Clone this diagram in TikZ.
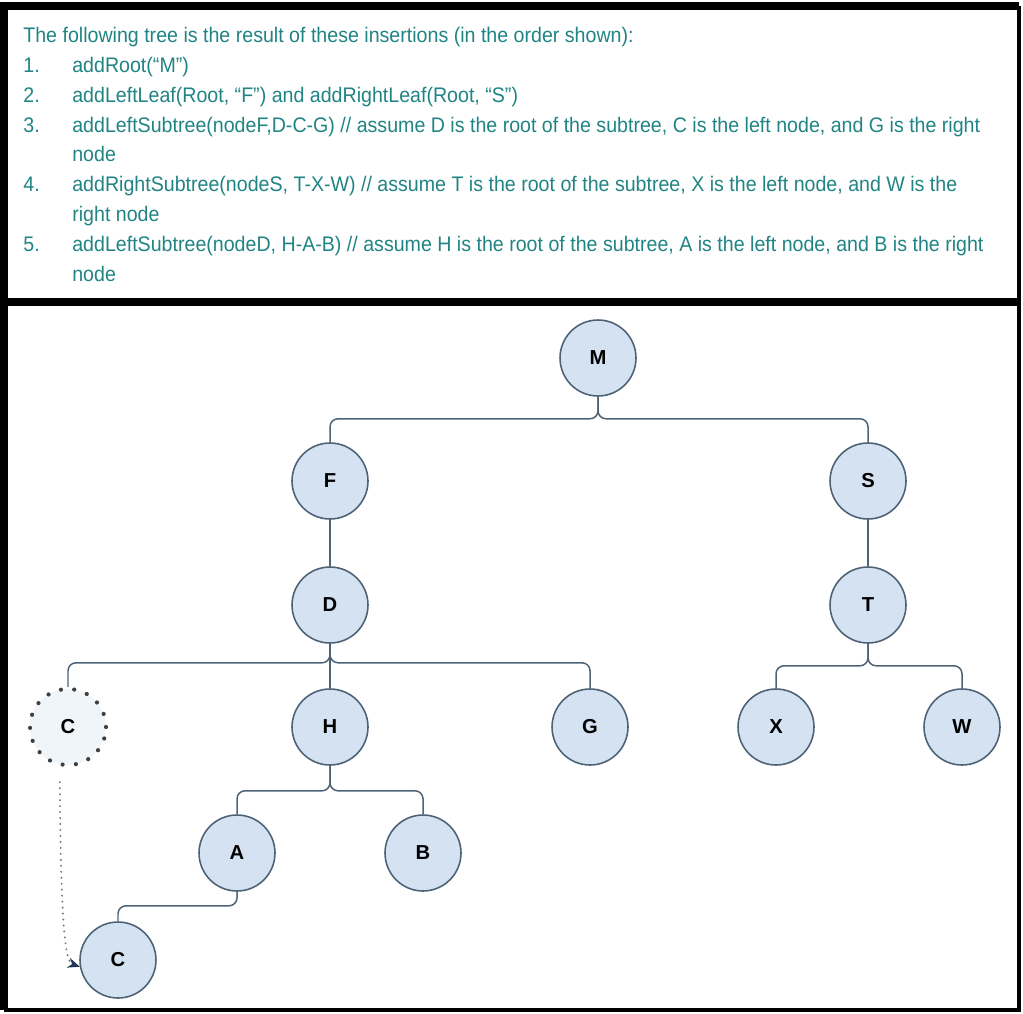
\documentclass[tikz,border=0pt]{standalone}
\usepackage{fontspec}
\setmainfont{Liberation Sans}
\newfontfamily\narrowfont{Liberation Sans}[FakeStretch=0.93]
\usetikzlibrary{arrows.meta}
\definecolor{noteText}{RGB}{32,132,132}
\definecolor{nodeFill}{RGB}{212,226,242}
\definecolor{nodeLine}{RGB}{78,98,118}
\definecolor{tipColor}{RGB}{30,55,85}
\tikzstyle{treenode} = [circle, text centered, minimum size = 1.52cm, inner sep = 0pt, draw = nodeLine, fill = nodeFill, line width = 0.9pt, font = \bfseries\fontsize{11.5}{13}\selectfont]
\tikzstyle{oldnode} = [treenode, draw = black!75, fill = nodeFill!35, line width = 2.4pt, dash pattern = on 0pt off 7.6pt, line cap = round]
\tikzstyle{branch} = [draw = nodeLine, line width = 0.85pt, rounded corners = 0.16cm]
\tikzstyle{moved} = [draw = black!55, line width = 1.2pt, line cap = round, dash pattern = on 0pt off 3.4pt, -{Stealth[length = 0.24cm, width = 0.2cm, color = tipColor]}]

\begin{document}
\begin{tikzpicture}[x = 0.02cm, y = -0.02cm]
    \useasboundingbox (0,0) rectangle (1023,1013);
    % frame and divider
    \draw [line width = 2pt] (1019,6) -- (1019,1010) -- (4,1010);
    \draw [line width = 4pt] (4,1010) -- (4,6) -- (1019,6);
    \draw [line width = 5pt] (4,302) -- (1019,302);

    % list of insertions
    \node (notes) [anchor = north west, inner sep = 0pt, align = left, text = noteText, font = \narrowfont\fontsize{12}{16.96}\selectfont] at (23,27) {%
        The following tree is the result of these insertions (in the order shown):\\
        \makebox[0.98cm][l]{1.}addRoot(“M”)\\
        \makebox[0.98cm][l]{2.}addLeftLeaf(Root, “F”) and addRightLeaf(Root, “S”)\\
        \makebox[0.98cm][l]{3.}addLeftSubtree(nodeF,D-C-G) // assume D is the root of the subtree, C is the left node, and G is the right\\
        \hspace*{0.98cm}node\\
        \makebox[0.98cm][l]{4.}addRightSubtree(nodeS, T-X-W) // assume T is the root of the subtree, X is the left node, and W is the\\
        \hspace*{0.98cm}right node\\
        \makebox[0.98cm][l]{5.}addLeftSubtree(nodeD, H-A-B) // assume H is the root of the subtree,  A is the left node, and B is the right\\
        \hspace*{0.98cm}node};

    % tree
    \node (nodeM) [treenode] at (598,358) {M};
    \node (nodeF) [treenode] at (330,481) {F};
    \node (nodeS) [treenode] at (868,481) {S};
    \node (nodeD) [treenode] at (330,605) {D};
    \node (nodeT) [treenode] at (868,605) {T};
    \node (oldC) [oldnode] at (68,727) {C};
    \node (nodeH) [treenode] at (330,727) {H};
    \node (nodeG) [treenode] at (590,727) {G};
    \node (nodeX) [treenode] at (776,727) {X};
    \node (nodeW) [treenode] at (962,727) {W};
    \node (nodeA) [treenode] at (237,853) {A};
    \node (nodeB) [treenode] at (423,853) {B};
    \node (nodeC) [treenode] at (118,960) {C};

    \draw [branch] (nodeM.south) -- ++(0,22) -| (nodeF.north);
    \draw [branch] (nodeM.south) -- ++(0,22) -| (nodeS.north);
    \draw [branch] (nodeF) -- (nodeD);
    \draw [branch] (nodeS) -- (nodeT);
    \draw [branch] (nodeD.south) -- ++(0,19) -| (oldC.north);
    \draw [branch] (nodeD) -- (nodeH);
    \draw [branch] (nodeD.south) -- ++(0,19) -| (nodeG.north);
    \draw [branch] (nodeT.south) -- ++(0,22) -| (nodeX.north);
    \draw [branch] (nodeT.south) -- ++(0,22) -| (nodeW.north);
    \draw [branch] (nodeH.south) -- ++(0,25) -| (nodeA.north);
    \draw [branch] (nodeH.south) -- ++(0,25) -| (nodeB.north);
    \draw [branch] (nodeA.south) -- ++(0,14) -| (nodeC.north);
    \draw [moved, shorten <= 0.32cm] (oldC.258) .. controls (61,940) and (66,962) .. (nodeC.190);
\end{tikzpicture}
\end{document}
